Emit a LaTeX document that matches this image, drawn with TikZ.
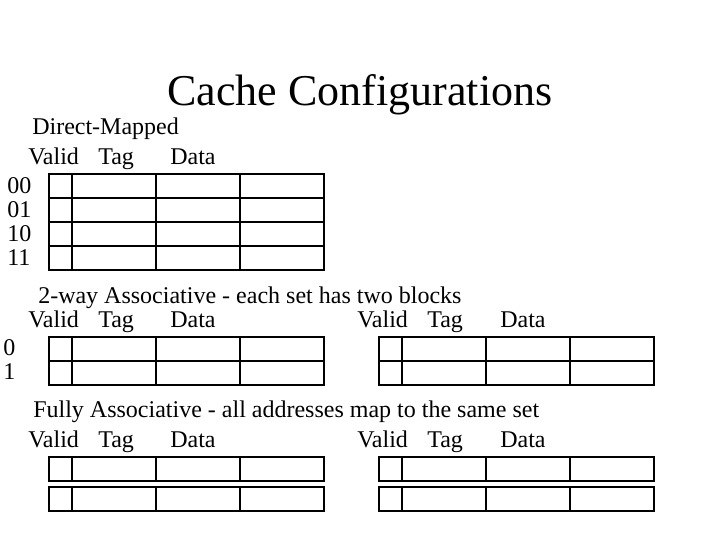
\documentclass[tikz,border=0pt]{standalone}
\usepackage{fontspec}
\setmainfont{Liberation Serif}
\tikzset{
  lbl/.style={anchor=base west, inner sep=0pt, font=\fontsize{18}{18}\selectfont},
  cell/.style={draw=black, line width=0.8pt}
}
% one row of cells: valid, tag, two data blocks
\newcommand{\cacherow}[2]{%
  \foreach \xa/\xb in {0/23, 23/107, 107/191, 191/275}
    \draw[cell] (#1+\xa,#2) rectangle (#1+\xb,#2+24);
}
\begin{document}
\begin{tikzpicture}[x=0.75pt, y=-0.75pt]
\useasboundingbox (0,0) rectangle (720,540);
\node (title) at (360,95) {\fontsize{33}{33}\selectfont Cache Configurations};
% direct-mapped
\node[lbl] (dm) at (32,134) {Direct-Mapped};
\node[lbl] (dmv) at (28,164) {Valid};
\node[lbl] (dmt) at (98,164) {Tag};
\node[lbl] (dmd) at (170,164) {Data};
\foreach \r [count=\i from 0] in {00,01,10,11} {
  \node[lbl] (dm\r) at (7,193+24*\i) {\r};
  \cacherow{49}{174+24*\i}
}
% 2-way
\node[lbl] (tw) at (38,303) {2-way Associative - each set has two blocks};
\node[lbl] (twv) at (28,327) {Valid};
\node[lbl] (twt) at (98,327) {Tag};
\node[lbl] (twd) at (170,327) {Data};
\node[lbl] (twv2) at (357,327) {Valid};
\node[lbl] (twt2) at (427,327) {Tag};
\node[lbl] (twd2) at (500,327) {Data};
\foreach \r [count=\i from 0] in {0,1} {
  \node[lbl] (tw\r) at (3,355+24*\i) {\r};
  \cacherow{49}{337+24*\i}
  \cacherow{379}{337+24*\i}
}
% fully associative
\node[lbl] (fa) at (33,417) {Fully Associative - all addresses map to the same set};
\node[lbl] (fav) at (28,447) {Valid};
\node[lbl] (fat) at (98,447) {Tag};
\node[lbl] (fad) at (170,447) {Data};
\node[lbl] (fav2) at (357,447) {Valid};
\node[lbl] (fat2) at (427,447) {Tag};
\node[lbl] (fad2) at (500,447) {Data};
\foreach \y in {457,487} {
  \cacherow{49}{\y}
  \cacherow{379}{\y}
}
\end{tikzpicture}
\end{document}
